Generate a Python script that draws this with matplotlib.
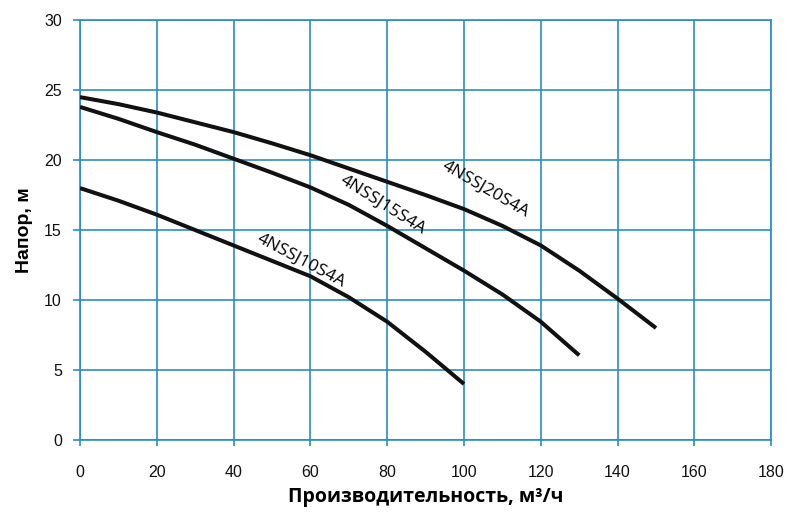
import matplotlib
matplotlib.use('Agg')
import matplotlib.pyplot as plt

# Q, m3/h and H, m
q_10 = [0, 10, 20, 30, 40, 50, 60, 70, 80, 90, 100]
h_10 = [18.0, 17.1, 16.1, 15.0, 13.9, 12.8, 11.7, 10.2, 8.45, 6.3, 4.0]

q_15 = [0, 10, 20, 30, 40, 50, 60, 70, 80, 90, 100, 110, 120, 130]
h_15 = [23.8, 22.95, 22.0, 21.1, 20.1, 19.1, 18.05, 16.8, 15.3, 13.7, 12.1, 10.4, 8.45, 6.05]

q_20 = [0, 10, 20, 30, 40, 50, 60, 70, 80, 90, 100, 110, 120, 130, 140, 150]
h_20 = [24.5, 24.0, 23.4, 22.7, 22.0, 21.2, 20.35, 19.4, 18.45, 17.5, 16.5, 15.3, 13.9, 12.1, 10.1, 8.0]

names = ['4NSSJ10S4A', '4NSSJ15S4A', '4NSSJ20S4A']
x_ticks = list(range(0, 181, 20))
y_ticks = list(range(0, 31, 5))

grid_col = '#2a8dc2'

fig = plt.figure(figsize=(8, 5.17), dpi=100)
ax = fig.add_axes([0.1, 0.149, 0.864, 0.812])

for q, h in [(q_10, h_10), (q_15, h_15), (q_20, h_20)]:
    ax.plot(q, h, color='#111111', linewidth=2.9, solid_capstyle='butt',
            solid_joinstyle='round', zorder=3)

ax.set_xlim(0, 180)
ax.set_ylim(0, 30)
ax.set_xticks(x_ticks)
ax.set_yticks(y_ticks)
ax.grid(True, color=grid_col, linewidth=1.2)
for s in ax.spines.values():
    s.set_color(grid_col)
    s.set_linewidth(1.2)
ax.tick_params(axis='y', colors=grid_col, length=5, width=1.2, labelcolor='#111111', pad=8)
ax.tick_params(axis='x', colors=grid_col, length=4, width=1.2, labelcolor='#111111', pad=14)
for lab in ax.get_xticklabels() + ax.get_yticklabels():
    lab.set_family('Liberation Sans')
    lab.set_fontsize(11.5)

ax.set_xlabel('Производительность, м³/ч', fontfamily='Open Sans', fontweight='bold',
              fontsize=14, labelpad=5)
ax.set_ylabel('Напор, м', fontfamily='Liberation Sans', fontweight='bold',
              fontsize=14, labelpad=8)

# curve labels
ax.text(57.5, 12.8, names[0], rotation=-28, ha='center', va='center', fontsize=12.5,
        fontfamily='Open Sans', rotation_mode='anchor')
ax.text(79, 16.8, names[1], rotation=-32, ha='center', va='center', fontsize=12.5,
        fontfamily='Open Sans', rotation_mode='anchor')
ax.text(105.7, 17.9, names[2], rotation=-30, ha='center', va='center', fontsize=12.5,
        fontfamily='Open Sans', rotation_mode='anchor')

fig.savefig('out.png', dpi=100)
